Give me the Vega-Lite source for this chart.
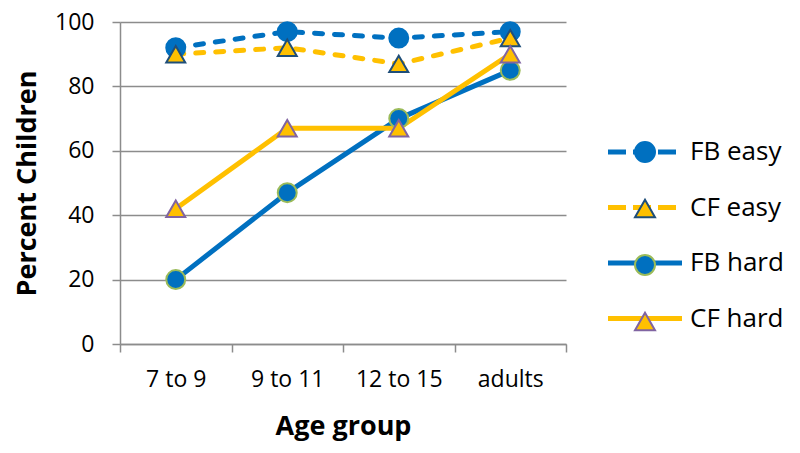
{
  "$schema": "https://vega.github.io/schema/vega-lite/v6.json",
  "width": 446,
  "height": 322,
  "autosize": {"type": "none"},
  "padding": {"left": 120, "top": 22, "right": 234, "bottom": 109},
  "background": "white",
  "config": {
    "view": {"stroke": null},
    "font": "Open Sans",
    "axis": {
      "domainColor": "#8C8C8C",
      "domainWidth": 1.5,
      "tickColor": "#8C8C8C",
      "tickWidth": 1.5,
      "tickSize": 8,
      "gridColor": "#8C8C8C",
      "gridWidth": 1.5,
      "labelColor": "#000000",
      "labelFont": "Open Sans",
      "labelFontSize": 23,
      "titleColor": "#000000",
      "titleFont": "Open Sans",
      "titleFontSize": 27,
      "titleFontWeight": "bold"
    }
  },
  "data": {
    "values": [
      {"series": "FB easy", "age": "7 to 9", "percent": 92},
      {"series": "FB easy", "age": "9 to 11", "percent": 97},
      {"series": "FB easy", "age": "12 to 15", "percent": 95},
      {"series": "FB easy", "age": "adults", "percent": 97},
      {"series": "CF easy", "age": "7 to 9", "percent": 90},
      {"series": "CF easy", "age": "9 to 11", "percent": 92},
      {"series": "CF easy", "age": "12 to 15", "percent": 87},
      {"series": "CF easy", "age": "adults", "percent": 95},
      {"series": "FB hard", "age": "7 to 9", "percent": 20},
      {"series": "FB hard", "age": "9 to 11", "percent": 47},
      {"series": "FB hard", "age": "12 to 15", "percent": 70},
      {"series": "FB hard", "age": "adults", "percent": 85},
      {"series": "CF hard", "age": "7 to 9", "percent": 42},
      {"series": "CF hard", "age": "9 to 11", "percent": 67},
      {"series": "CF hard", "age": "12 to 15", "percent": 67},
      {"series": "CF hard", "age": "adults", "percent": 90}
    ]
  },
  "encoding": {
    "x": {
      "field": "age",
      "type": "nominal",
      "sort": ["7 to 9", "9 to 11", "12 to 15", "adults"],
      "scale": {"paddingInner": 0, "paddingOuter": 0},
      "axis": {
        "title": "Age group",
        "labelAngle": 0,
        "tickBand": "extent",
        "grid": false,
        "labelPadding": 16,
        "titlePadding": 22
      }
    },
    "y": {
      "field": "percent",
      "type": "quantitative",
      "scale": {"domain": [0, 100], "nice": false},
      "axis": {
        "title": "Percent  Children",
        "values": [0, 20, 40, 60, 80, 100],
        "grid": true,
        "labelPadding": 18,
        "titlePadding": 13
      }
    }
  },
  "layer": [
    {
      "transform": [{"filter": {"field": "series", "equal": "FB easy"}}],
      "mark": {"type": "line", "strokeWidth": 5, "strokeDash": [8, 12], "strokeCap": "round", "color": "#0070C0"},
      "encoding": {}
    },
    {
      "transform": [{"filter": {"field": "series", "equal": "CF easy"}}],
      "mark": {"type": "line", "strokeWidth": 5, "strokeDash": [8, 12], "strokeCap": "round", "color": "#FFC000"},
      "encoding": {}
    },
    {
      "transform": [{"filter": {"field": "series", "equal": "FB hard"}}],
      "mark": {"type": "line", "strokeWidth": 5, "strokeCap": "round", "strokeJoin": "round", "color": "#0070C0"},
      "encoding": {}
    },
    {
      "transform": [{"filter": {"field": "series", "equal": "CF hard"}}],
      "mark": {"type": "line", "strokeWidth": 5, "strokeCap": "round", "strokeJoin": "round", "color": "#FFC000"},
      "encoding": {}
    },
    {
      "mark": {"type": "point", "filled": true, "size": 360, "strokeWidth": 2, "opacity": 1},
      "encoding": {
        "shape": {
          "field": "series",
          "type": "nominal",
          "scale": {"domain": ["FB easy", "CF easy", "FB hard", "CF hard"], "range": ["circle", "triangle-up", "circle", "triangle-up"]},
          "legend": {"orient": "none", "legendX": 512, "legendY": 117, "title": null, "labelExpr": "''", "labelFontSize": 26, "labelOffset": 32, "symbolSize": 400, "symbolStrokeWidth": 2, "rowPadding": 29.5, "padding": 0, "zindex": 2}
        },
        "fill": {
          "field": "series",
          "type": "nominal",
          "scale": {"domain": ["FB easy", "CF easy", "FB hard", "CF hard"], "range": ["#0070C0", "#FFC000", "#0070C0", "#FFC000"]},
          "legend": {"orient": "none", "legendX": 512, "legendY": 117, "title": null, "labelExpr": "''", "labelFontSize": 26, "labelOffset": 32, "symbolSize": 400, "symbolStrokeWidth": 2, "rowPadding": 29.5, "padding": 0, "zindex": 2}
        },
        "stroke": {
          "field": "series",
          "type": "nominal",
          "scale": {"domain": ["FB easy", "CF easy", "FB hard", "CF hard"], "range": ["#0070C0", "#1F4E79", "#9BBB59", "#8064A2"]},
          "legend": {"orient": "none", "legendX": 512, "legendY": 117, "title": null, "labelExpr": "''", "labelFontSize": 26, "labelOffset": 32, "symbolSize": 400, "symbolStrokeWidth": 2, "rowPadding": 29.5, "padding": 0, "zindex": 2}
        }
      }
    },
    {
      "transform": [{"filter": "false"}],
      "mark": {"type": "line", "strokeWidth": 5},
      "encoding": {
        "color": {
          "field": "series",
          "type": "nominal",
          "scale": {"domain": ["FB easy", "CF easy", "FB hard", "CF hard", "none"], "range": ["#0070C0", "#FFC000", "#0070C0", "#FFC000", "#FFFFFF"]},
          "legend": {"orient": "none", "legendX": 512, "legendY": 117, "title": null, "values": ["FB easy", "CF easy", "FB hard", "CF hard"], "labelColor": "#000000", "labelFont": "Open Sans", "labelFontSize": 26, "labelOffset": 32, "symbolType": "M-37,0H37", "symbolSize": 4, "symbolStrokeWidth": 5, "rowPadding": 29.5, "padding": 0, "zindex": 1}
        },
        "strokeDash": {
          "field": "series",
          "type": "nominal",
          "scale": {"domain": ["FB easy", "CF easy", "FB hard", "CF hard", "none"], "range": [[18, 7, 18, 7, 18, 100], [18, 7, 18, 7, 18, 100], [1, 0], [1, 0], [1, 0]]},
          "legend": {"orient": "none", "legendX": 512, "legendY": 117, "title": null, "values": ["FB easy", "CF easy", "FB hard", "CF hard"], "labelColor": "#000000", "labelFont": "Open Sans", "labelFontSize": 26, "labelOffset": 32, "symbolType": "M-37,0H37", "symbolSize": 4, "symbolStrokeWidth": 5, "rowPadding": 29.5, "padding": 0, "zindex": 1}
        }
      }
    }
  ]
}
